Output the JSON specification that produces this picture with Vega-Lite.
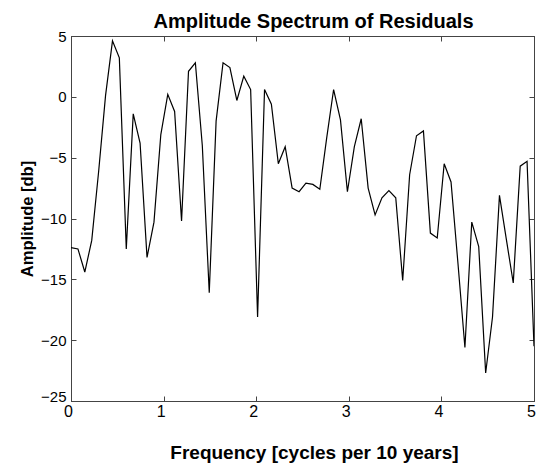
{
  "$schema": "https://vega.github.io/schema/vega-lite/v6.json",
  "width": 463,
  "height": 365,
  "autosize": {"type": "none"},
  "padding": {"left": 71, "top": 36, "right": 5, "bottom": 67},
  "background": "white",
  "title": {
    "text": "Amplitude Spectrum of Residuals",
    "font": "Liberation Sans",
    "fontSize": 20,
    "fontWeight": "bold",
    "color": "black",
    "offset": -3,
    "dx": 11
  },
  "config": {
    "view": {"stroke": "#444", "strokeWidth": 1},
    "axis": {
      "grid": false,
      "labelFont": "Liberation Sans",
      "labelFontSize": 16,
      "labelColor": "black",
      "titleFont": "Liberation Sans",
      "titleFontSize": 19,
      "titleFontWeight": "bold",
      "titleColor": "black",
      "domainColor": "#444",
      "tickColor": "#444",
      "tickSize": -5
    }
  },
  "data": {
    "values": [
      {"f": 0.0, "a": -12.4},
      {"f": 0.075, "a": -12.5},
      {"f": 0.149, "a": -14.4},
      {"f": 0.224, "a": -11.8},
      {"f": 0.299, "a": -6.1},
      {"f": 0.373, "a": 0.1},
      {"f": 0.448, "a": 4.6},
      {"f": 0.522, "a": 3.2},
      {"f": 0.597, "a": -12.5},
      {"f": 0.672, "a": -1.4},
      {"f": 0.746, "a": -3.8},
      {"f": 0.821, "a": -13.2},
      {"f": 0.896, "a": -10.3},
      {"f": 0.970, "a": -3.1},
      {"f": 1.045, "a": 0.2},
      {"f": 1.119, "a": -1.2},
      {"f": 1.194, "a": -10.2},
      {"f": 1.269, "a": 2.1},
      {"f": 1.343, "a": 2.8},
      {"f": 1.418, "a": -4.0},
      {"f": 1.493, "a": -16.1},
      {"f": 1.567, "a": -2.0},
      {"f": 1.642, "a": 2.8},
      {"f": 1.716, "a": 2.4},
      {"f": 1.791, "a": -0.3},
      {"f": 1.866, "a": 1.7},
      {"f": 1.940, "a": 0.6},
      {"f": 2.015, "a": -18.1},
      {"f": 2.090, "a": 0.6},
      {"f": 2.164, "a": -0.6},
      {"f": 2.239, "a": -5.5},
      {"f": 2.313, "a": -4.1},
      {"f": 2.388, "a": -7.5},
      {"f": 2.463, "a": -7.8},
      {"f": 2.537, "a": -7.1},
      {"f": 2.612, "a": -7.2},
      {"f": 2.687, "a": -7.6},
      {"f": 2.761, "a": -3.4},
      {"f": 2.836, "a": 0.6},
      {"f": 2.910, "a": -1.9},
      {"f": 2.985, "a": -7.8},
      {"f": 3.060, "a": -4.1},
      {"f": 3.134, "a": -1.8},
      {"f": 3.209, "a": -7.5},
      {"f": 3.284, "a": -9.7},
      {"f": 3.358, "a": -8.3},
      {"f": 3.433, "a": -7.7},
      {"f": 3.507, "a": -8.3},
      {"f": 3.582, "a": -15.1},
      {"f": 3.657, "a": -6.4},
      {"f": 3.731, "a": -3.2},
      {"f": 3.806, "a": -2.8},
      {"f": 3.881, "a": -11.2},
      {"f": 3.955, "a": -11.6},
      {"f": 4.030, "a": -5.5},
      {"f": 4.104, "a": -7.0},
      {"f": 4.179, "a": -13.7},
      {"f": 4.254, "a": -20.6},
      {"f": 4.328, "a": -10.3},
      {"f": 4.403, "a": -12.3},
      {"f": 4.478, "a": -22.7},
      {"f": 4.552, "a": -18.1},
      {"f": 4.627, "a": -8.1},
      {"f": 4.701, "a": -11.7},
      {"f": 4.776, "a": -15.3},
      {"f": 4.851, "a": -5.7},
      {"f": 4.925, "a": -5.3},
      {"f": 5.0, "a": -20.5}
    ]
  },
  "layer": [
    {
      "mark": {"type": "line", "color": "black", "strokeWidth": 1.2, "clip": true},
      "encoding": {
        "x": {
          "field": "f", "type": "quantitative",
          "scale": {"domain": [0, 5], "nice": false},
          "axis": {"values": [0, 1, 2, 3, 4, 5], "title": "Frequency [cycles per 10 years]", "labelPadding": 7, "labelOffset": -3, "titleX": 243, "titlePadding": 24, "labelFlush": false}
        },
        "y": {
          "field": "a", "type": "quantitative",
          "scale": {"domain": [-25, 5], "nice": false, "zero": false},
          "axis": {
            "values": [-25, -20, -15, -10, -5, 0, 5],
            "title": "Amplitude [db]",
            "titleFontSize": 16.5,
            "labelFontSize": 15,
            "labelPadding": 10,
            "titlePadding": 5,
            "labelFlush": false,
            "labelBaseline": {"condition": {"test": "datum.value == -25", "value": "alphabetic"}, "value": "middle"}
          }
        }
      }
    },
    {
      "mark": {"type": "line", "opacity": 0},
      "encoding": {
        "x": {
          "field": "f", "type": "quantitative",
          "scale": {"domain": [0, 5], "nice": false},
          "axis": {"orient": "top", "values": [0, 1, 2, 3, 4, 5], "labels": false, "title": null}
        },
        "y": {
          "field": "a", "type": "quantitative",
          "scale": {"domain": [-25, 5], "nice": false, "zero": false},
          "axis": {"orient": "right", "values": [-25, -20, -15, -10, -5, 0, 5], "labels": false, "title": null}
        }
      }
    }
  ],
  "resolve": {"axis": {"x": "independent", "y": "independent"}}
}
